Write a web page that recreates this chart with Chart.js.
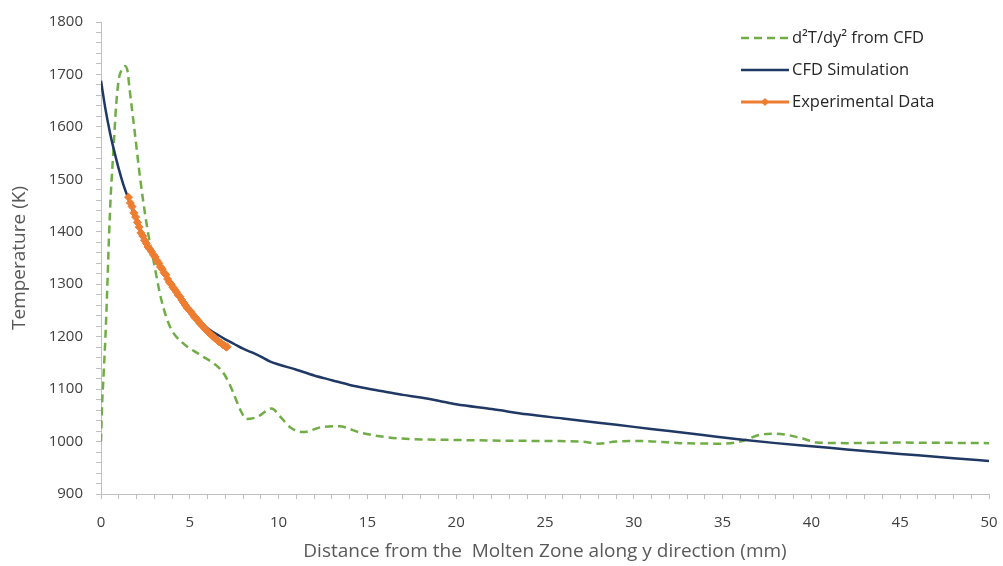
<!DOCTYPE html>
<html>
<head>
<meta charset="utf-8">
<script src="https://cdn.jsdelivr.net/npm/chart.js@4"></script>
<style>
  html, body { margin: 0; padding: 0; background: #ffffff; }
  #wrap { width: 1003px; height: 566px; position: relative; }
</style>
</head>
<body>
<div id="wrap"><canvas id="chart" width="1003" height="566"></canvas></div>
<script>
// Second derivative profile from the CFD model (plotted on the temperature axis)
const d2tX = [0, 0.05, 0.15, 0.25, 0.35, 0.45, 0.55, 0.7, 0.85, 1.0, 1.15, 1.35, 1.5, 1.6, 1.9, 2.2, 2.6, 2.95, 3.4, 3.9, 4.6, 5.6, 6.6, 7.0, 7.45, 7.85, 8.2, 8.8, 9.6, 10.1, 10.7, 11.4, 12.5, 13.4, 14.6, 15.7, 16.8, 20, 25, 27, 28, 29, 30.4, 32.6, 34.9, 36, 37.1, 38, 39.4, 40.3, 42, 45, 50];
const d2tT = [1000, 1060, 1130, 1200, 1290, 1390, 1470, 1555, 1640, 1690, 1708, 1716, 1705, 1675, 1590, 1503, 1408, 1346, 1270, 1218, 1188, 1165, 1142, 1125, 1093, 1060, 1043, 1047, 1063, 1047, 1026, 1018, 1028, 1029, 1017, 1010, 1006, 1003, 1001, 1000, 996, 1000, 1001, 997, 996, 1000, 1013, 1015, 1007, 998, 997, 998, 997];

// CFD simulated temperature along y
const cfdX = [0, 0.25, 0.5, 0.7, 1.0, 1.25, 1.5, 2, 2.5, 3, 3.5, 4, 4.5, 5, 5.5, 6, 6.5, 7, 7.5, 8, 8.5, 9, 9.5, 10, 11, 12, 13, 14, 15, 16, 17, 18, 19, 20, 22, 24, 26, 28, 30, 32, 34, 36, 38, 40, 42, 44, 46, 48, 50];
const cfdT = [1688, 1634, 1590, 1560, 1520, 1491, 1467, 1422, 1386, 1353, 1323, 1297, 1273, 1251, 1232, 1216, 1205, 1195, 1186, 1177, 1170, 1162, 1153, 1147, 1137, 1126, 1117, 1108, 1101, 1095, 1089, 1084, 1078, 1071, 1062, 1052, 1044, 1036, 1028, 1020, 1012, 1004, 997, 991, 985, 979, 974, 968, 963];

// Measured temperatures
const expX = [1.55, 1.65, 1.75, 1.85, 1.95, 2.05, 2.15, 2.25, 2.35, 2.45, 2.55, 2.65, 2.75, 2.85, 2.95, 3.05, 3.15, 3.25, 3.35, 3.45, 3.55, 3.65, 3.75, 3.85, 3.95, 4.05, 4.15, 4.25, 4.35, 4.45, 4.55, 4.65, 4.75, 4.85, 4.95, 5.05, 5.15, 5.25, 5.35, 5.45, 5.55, 5.65, 5.75, 5.85, 5.95, 6.05, 6.15, 6.25, 6.35, 6.45, 6.55, 6.65, 6.75, 6.85, 6.95, 7.05, 7.1];
const expT = [1466, 1455, 1448, 1436, 1428, 1418, 1409, 1398, 1392, 1384, 1378, 1371, 1367, 1362, 1356, 1352, 1345, 1340, 1333, 1329, 1322, 1318, 1310, 1304, 1300, 1294, 1290, 1285, 1279, 1276, 1270, 1265, 1260, 1255, 1251, 1248, 1243, 1238, 1235, 1231, 1226, 1223, 1219, 1215, 1212, 1208, 1205, 1202, 1199, 1196, 1193, 1190, 1188, 1185, 1183, 1180, 1181];

// Axis tick values
const xTickLabels = [0, 5, 10, 15, 20, 25, 30, 35, 40, 45, 50];
const yTickLabels = [900, 1000, 1100, 1200, 1300, 1400, 1500, 1600, 1700, 1800];

const seriesNames = ['d\u00B2T/dy\u00B2 from CFD', 'CFD Simulation', 'Experimental Data'];

const toPoints = (xs, ys) => xs.map((x, i) => ({ x: x, y: ys[i] }));

const AXIS_GREY = '#bfbfbf';
const TICK_TEXT = '#404040';
const TITLE_TEXT = '#595959';
const FONT = "'Open Sans', 'Liberation Sans', sans-serif";

// Legend drawn as a vertical list in the upper right of the plot
const sideLegend = {
  id: 'sideLegend',
  afterDraw(chart) {
    const ctx = chart.ctx;
    const x0 = 741, x1 = 789, tx = 792;
    const rows = [38, 70, 102];
    ctx.save();
    chart.data.datasets.forEach((ds, i) => {
      const y = rows[i];
      ctx.beginPath();
      ctx.strokeStyle = ds.borderColor;
      ctx.lineWidth = ds.borderWidth;
      ctx.setLineDash(ds.borderDash || []);
      ctx.moveTo(x0, y);
      ctx.lineTo(x1, y);
      ctx.stroke();
      ctx.setLineDash([]);
      if (ds.pointRadius > 0) {
        const r = ds.pointRadius;
        const cx = (x0 + x1) / 2;
        ctx.beginPath();
        ctx.fillStyle = ds.pointBackgroundColor;
        ctx.moveTo(cx, y - r);
        ctx.lineTo(cx + r, y);
        ctx.lineTo(cx, y + r);
        ctx.lineTo(cx - r, y);
        ctx.closePath();
        ctx.fill();
      }
      ctx.fillStyle = '#262626';
      ctx.font = '16.5px ' + FONT;
      ctx.textAlign = 'left';
      ctx.textBaseline = 'middle';
      ctx.fillText(ds.label, tx, y);
    });
    ctx.restore();
  }
};

new Chart(document.getElementById('chart'), {
  type: 'line',
  data: {
    datasets: [
      {
        label: seriesNames[0],
        data: toPoints(d2tX, d2tT),
        borderColor: '#70ad47',
        borderWidth: 2.5,
        borderDash: [8, 5],
        pointRadius: 0,
        cubicInterpolationMode: 'monotone',
        order: 3
      },
      {
        label: seriesNames[1],
        data: toPoints(cfdX, cfdT),
        borderColor: '#203864',
        borderWidth: 2.5,
        pointRadius: 0,
        cubicInterpolationMode: 'monotone',
        order: 2
      },
      {
        label: seriesNames[2],
        data: toPoints(expX, expT),
        borderColor: '#ed7d31',
        backgroundColor: '#ed7d31',
        pointBackgroundColor: '#ed7d31',
        pointBorderColor: '#ed7d31',
        borderWidth: 3,
        pointStyle: 'rectRot',
        pointRadius: 4,
        pointBorderWidth: 1,
        tension: 0,
        order: 1
      }
    ]
  },
  options: {
    responsive: false,
    animation: false,
    layout: { padding: { top: 21, right: 0, left: 0, bottom: 0 } },
    plugins: {
      legend: { display: false },
      tooltip: { enabled: false }
    },
    scales: {
      x: {
        type: 'linear',
        min: 0,
        max: 50,
        afterFit(axis) {
          axis.height = 72;
          axis.paddingLeft = 0;
          axis.paddingRight = 14;
        },
        border: { display: true, color: AXIS_GREY, width: 1 },
        grid: { drawOnChartArea: false, color: AXIS_GREY, tickLength: 5 },
        ticks: {
          stepSize: 1,
          autoSkip: false,
          maxRotation: 0,
          padding: 15,
          color: TICK_TEXT,
          font: { family: FONT, size: 15 },
          callback: (v) => xTickLabels.includes(v) ? String(v) : ''
        },
        title: {
          display: true,
          text: 'Distance from the  Molten Zone along y direction (mm)',
          color: TITLE_TEXT,
          font: { family: FONT, size: 19 },
          padding: { top: 6, bottom: 3 }
        }
      },
      y: {
        min: 900,
        max: 1800,
        afterFit(axis) { axis.width = 101; },
        border: { display: true, color: AXIS_GREY, width: 1 },
        grid: { drawOnChartArea: false, color: AXIS_GREY, tickLength: 5 },
        ticks: {
          stepSize: 20,
          autoSkip: false,
          padding: 13,
          color: TICK_TEXT,
          font: { family: FONT, size: 15 },
          callback: (v) => yTickLabels.includes(v) ? String(v) : ''
        },
        title: {
          display: true,
          text: 'Temperature (K)',
          color: TITLE_TEXT,
          font: { family: FONT, size: 19 },
          padding: { top: 8, bottom: 0 }
        }
      }
    }
  },
  plugins: [sideLegend]
});
</script>
</body>
</html>
